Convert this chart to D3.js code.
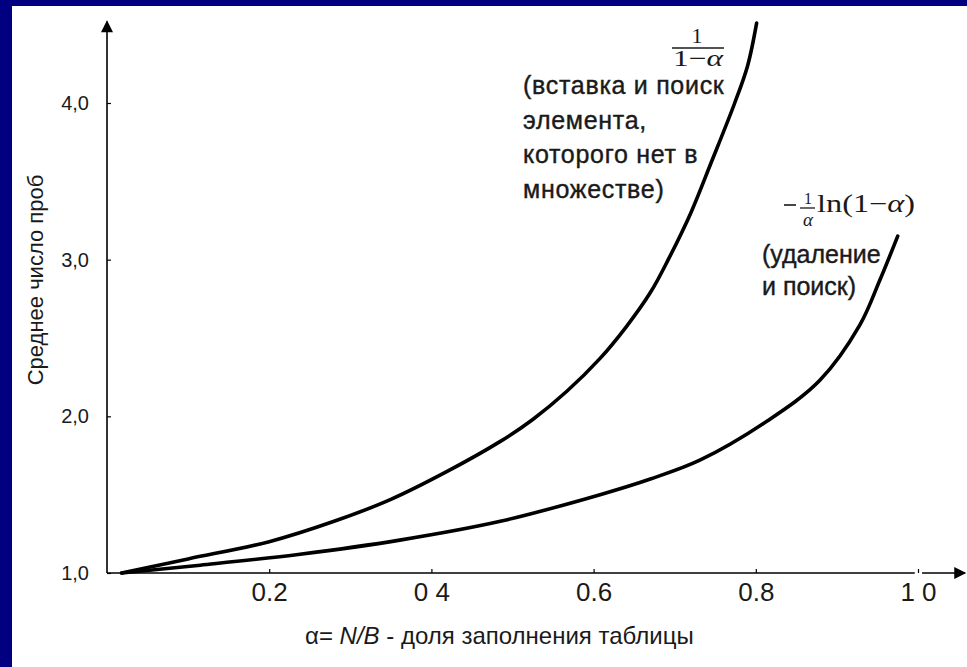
<!DOCTYPE html>
<html>
  <head>
    <meta charset="UTF-8" />
    <title>Среднее число проб</title>
    <script src="https://d3js.org/d3.v7.min.js"></script>
    <style>
      html,
      body {
        margin: 0;
        padding: 0;
        background: #000080;
      }
      svg {
        display: block;
      }
      .label {
        font-family: "Liberation Sans", Arial, sans-serif;
        fill: #1a1a1a;
      }
      .note {
        font-family: "Liberation Sans", Arial, sans-serif;
        fill: #1a1a1a;
        stroke: #1a1a1a;
        stroke-width: 0.4;
      }
      .formula {
        font-family: "Liberation Serif", "Times New Roman", serif;
        fill: #1a1a1a;
      }
      .curve {
        fill: none;
        stroke: #000;
        stroke-width: 3.6;
        stroke-linejoin: round;
        stroke-linecap: round;
      }
    </style>
  </head>
  <body>
    <div id="chart"></div>
    <script>
      // tick values and labels, as printed (the scan lost two of the dots)
      const xTicks = [0.2, 0.4, 0.6, 0.8, 1.0];
      const xTickLabels = ["0.2", "0 4", "0.6", "0.8", "1 0"];
      const yTicks = [1, 2, 3, 4];
      const yTickLabels = ["1,0", "2,0", "3,0", "4,0"];

      // 1/(1-a): insertion / unsuccessful search
      const insertAlpha = [0.018, 0.1, 0.2, 0.28, 0.35, 0.42, 0.485, 0.525, 0.567, 0.608, 0.64, 0.67, 0.692, 0.72, 0.745, 0.774, 0.79, 0.801];
      const insertProbes = [1.0, 1.09, 1.2, 1.33, 1.47, 1.65, 1.84, 1.98, 2.16, 2.37, 2.57, 2.79, 3.0, 3.3, 3.62, 4.0, 4.24, 4.51];

      // -(1/a) ln(1-a): deletion / successful search
      const deleteAlpha = [0.018, 0.115, 0.238, 0.361, 0.485, 0.608, 0.67, 0.731, 0.814, 0.879, 0.928, 0.953, 0.975];
      const deleteProbes = [1.0, 1.05, 1.12, 1.21, 1.33, 1.5, 1.6, 1.72, 1.97, 2.23, 2.58, 2.87, 3.15];

      const width = 967;
      const height = 667;

      const svg = d3
        .select("#chart")
        .append("svg")
        .attr("width", width)
        .attr("height", height);

      // white page over the navy frame
      svg
        .append("rect")
        .attr("x", 12)
        .attr("y", 6)
        .attr("width", width - 12)
        .attr("height", height - 6)
        .attr("fill", "#fff");

      const x = d3.scaleLinear().domain([0, 1]).range([107, 918]);
      const y = d3.scaleLinear().domain([1, 4]).range([573, 103]);

      const defs = svg.append("defs");
      defs
        .append("marker")
        .attr("id", "arrow")
        .attr("viewBox", "0 0 10 10")
        .attr("refX", 9)
        .attr("refY", 5)
        .attr("markerWidth", 14)
        .attr("markerHeight", 12)
        .attr("markerUnits", "userSpaceOnUse")
        .attr("orient", "auto")
        .append("path")
        .attr("d", "M0,0 L10,5 L0,10 Z")
        .attr("fill", "#000");

      // axis lines with arrows
      svg
        .append("line")
        .attr("x1", x(0))
        .attr("y1", y(1))
        .attr("x2", x(0))
        .attr("y2", y(4.52))
        .attr("stroke", "#000")
        .attr("stroke-width", 1.6)
        .attr("marker-end", "url(#arrow)");

      svg
        .append("line")
        .attr("x1", x(0))
        .attr("y1", y(1))
        .attr("x2", x(0.996))
        .attr("y2", y(1))
        .attr("stroke", "#000")
        .attr("stroke-width", 1.6);

      svg
        .append("line")
        .attr("x1", x(1.005))
        .attr("y1", y(1))
        .attr("x2", x(1.058))
        .attr("y2", y(1))
        .attr("stroke", "#000")
        .attr("stroke-width", 1.6)
        .attr("marker-end", "url(#arrow)");

      // ticks and labels through d3 axes
      const xAxis = d3
        .axisBottom(x)
        .tickValues(xTicks)
        .tickSize(-4)
        .tickSizeOuter(0)
        .tickFormat((d, i) => xTickLabels[i]);

      const gx = svg
        .append("g")
        .attr("transform", `translate(0,${y(1)})`)
        .call(xAxis);
      gx.select(".domain").remove();
      gx.selectAll(".tick line").attr("stroke", "#000").attr("stroke-width", 1.2);
      gx.selectAll(".tick text")
        .attr("y", 10)
        .attr("dy", "0.71em")
        .style("font-size", "26px")
        .style("font-family", "'Liberation Sans', Arial, sans-serif")
        .attr("fill", "#1a1a1a");

      const yAxis = d3
        .axisLeft(y)
        .tickValues(yTicks)
        .tickSize(-4)
        .tickSizeOuter(0)
        .tickFormat((d, i) => yTickLabels[i]);

      const gy = svg
        .append("g")
        .attr("transform", `translate(${x(0)},0)`)
        .call(yAxis);
      gy.select(".domain").remove();
      gy.selectAll(".tick line").attr("stroke", "#000").attr("stroke-width", 1.2);
      gy.selectAll(".tick text")
        .attr("x", -18)
        .style("font-size", "20px")
        .style("font-family", "'Liberation Sans', Arial, sans-serif")
        .attr("fill", "#1a1a1a");

      // curves
      const line = d3
        .line()
        .x((d) => x(d[0]))
        .y((d) => y(d[1]))
        .curve(d3.curveCatmullRom.alpha(0.5));

      svg
        .append("path")
        .attr("class", "curve")
        .attr("d", line(d3.zip(insertAlpha, insertProbes)));

      svg
        .append("path")
        .attr("class", "curve")
        .attr("d", line(d3.zip(deleteAlpha, deleteProbes)));

      // axis titles
      const xTitle = svg
        .append("text")
        .attr("class", "label")
        .attr("x", 305)
        .attr("y", 644)
        .style("font-size", "24px");
      xTitle.append("tspan").text("\u03b1= ");
      xTitle.append("tspan").attr("font-style", "italic").text("N/B");
      xTitle.append("tspan").text(" - доля заполнения таблицы");

      svg
        .append("text")
        .attr("class", "label")
        .attr("transform", "translate(43,280) rotate(-90)")
        .attr("text-anchor", "middle")
        .style("font-size", "22px")
        .text("Среднее число проб");

      // annotation for 1/(1-a)
      const f1 = svg.append("g").attr("class", "formula");
      f1.append("text")
        .attr("x", 697)
        .attr("y", 43)
        .attr("text-anchor", "middle")
        .style("font-size", "22px")
        .text("1");
      f1.append("line")
        .attr("x1", 672)
        .attr("x2", 724)
        .attr("y1", 48)
        .attr("y2", 48)
        .attr("stroke", "#1a1a1a")
        .attr("stroke-width", 1.6);
      const den = f1
        .append("text")
        .attr("x", 673)
        .attr("y", 66)
        .attr("textLength", 50)
        .attr("lengthAdjust", "spacingAndGlyphs")
        .style("font-size", "23px");
      den.append("tspan").text("1\u2212");
      den.append("tspan").attr("font-style", "italic").text("\u03b1");

      const note1 = ["(вставка и поиск", "элемента,", "которого нет в", "множестве)"];
      svg
        .append("g")
        .selectAll("text")
        .data(note1)
        .join("text")
        .attr("class", "note")
        .attr("x", 523)
        .attr("y", (d, i) => 94 + i * 34.5)
        .style("font-size", "25px")
        .style("letter-spacing", "0.7px")
        .text((d) => d);

      // annotation for -(1/a) ln(1-a)
      const f2 = svg.append("g").attr("class", "formula");
      f2.append("line")
        .attr("x1", 784)
        .attr("x2", 796)
        .attr("y1", 205)
        .attr("y2", 205)
        .attr("stroke", "#1a1a1a")
        .attr("stroke-width", 1.6);
      f2.append("text")
        .attr("x", 808)
        .attr("y", 204)
        .attr("text-anchor", "middle")
        .style("font-size", "16px")
        .text("1");
      f2.append("line")
        .attr("x1", 800)
        .attr("x2", 815)
        .attr("y1", 208)
        .attr("y2", 208)
        .attr("stroke", "#1a1a1a")
        .attr("stroke-width", 1.3);
      f2.append("text")
        .attr("x", 808)
        .attr("y", 226)
        .attr("text-anchor", "middle")
        .attr("font-style", "italic")
        .style("font-size", "19px")
        .text("\u03b1");
      const ln = f2
        .append("text")
        .attr("x", 817)
        .attr("y", 212)
        .attr("textLength", 98)
        .attr("lengthAdjust", "spacingAndGlyphs")
        .style("font-size", "25px");
      ln.append("tspan").text("ln(1\u2212");
      ln.append("tspan").attr("font-style", "italic").text("\u03b1");
      ln.append("tspan").text(")");

      const note2 = ["(удаление", "и поиск)"];
      svg
        .append("g")
        .selectAll("text")
        .data(note2)
        .join("text")
        .attr("class", "note")
        .attr("x", 762)
        .attr("y", (d, i) => 263 + i * 32)
        .style("font-size", "25px")
        .text((d) => d);
    </script>
  </body>
</html>
